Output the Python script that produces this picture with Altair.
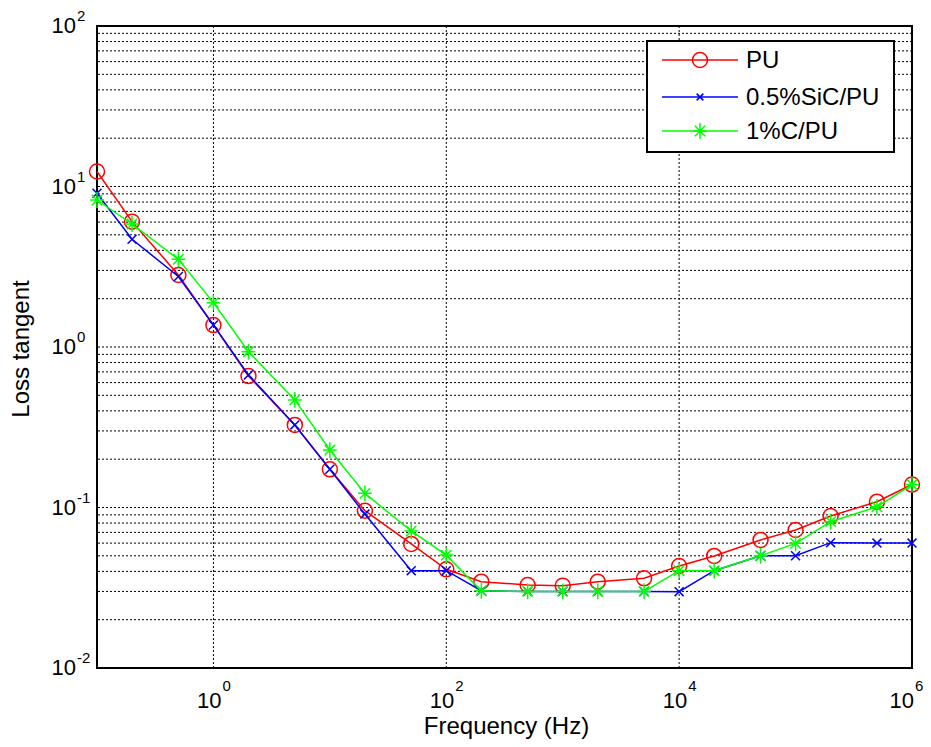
import altair as alt
import pandas as pd

# ---- data ----
freq = [0.1, 0.2, 0.5, 1, 2, 5, 10, 20, 50, 100, 200, 500, 1000, 2000, 5000,
        1e4, 2e4, 5e4, 1e5, 2e5, 5e5, 1e6]
pu = [12.4, 6.04, 2.81, 1.37, 0.659, 0.327, 0.173, 0.0955, 0.0593, 0.0412,
      0.0345, 0.0329, 0.0326, 0.0345, 0.0362, 0.0432, 0.0499, 0.0628, 0.0724,
      0.0885, 0.1087, 0.139]
sic = [9.07, 4.69, 2.75, 1.37, 0.67, 0.327, 0.173, 0.091, 0.0404, 0.0404,
       0.0303, 0.03, 0.03, 0.03, 0.03, 0.0299, 0.0404, 0.05, 0.05, 0.0604,
       0.06, 0.06]
cpu = [8.24, 5.84, 3.52, 1.89, 0.935, 0.468, 0.228, 0.1225, 0.0714, 0.0505,
       0.0303, 0.03, 0.03, 0.03, 0.03, 0.0404, 0.0404, 0.05, 0.0598, 0.0816,
       0.101, 0.139]

series_names = ["PU", "0.5%SiC/PU", "1%C/PU"]
series_vals = [pu, sic, cpu]
series_colors = ["#FF0000", "#0000FF", "#00FF00"]

x_ticks = [1, 100, 1e4, 1e6]
x_exp = ["0", "2", "4", "6"]
y_ticks = [0.01, 0.1, 1, 10, 100]
y_exp = ["-2", "-1", "0", "1", "2"]
y_grid = [m * d for d in [0.01, 0.1, 1, 10] for m in range(1, 10)] + [100]

W, H = 815, 642
FONT = "Liberation Sans"

CIRCLE = "circle"
XMARK = "M-1,-1L1,1M-1,1L1,-1"
STAR = "M-1,0L1,0M0,-1.15L0,1.15M-0.75,-0.75L0.75,0.75M-0.75,0.75L0.75,-0.75"
shapes = [CIRCLE, XMARK, STAR]
sizes = [225, 80, 190]

xscale = alt.Scale(type="log", domain=[0.1, 1e6], nice=False)
yscale = alt.Scale(type="log", domain=[0.01, 100], nice=False)

layers = []
# dotted grid
layers.append(alt.Chart(pd.DataFrame({"v": y_grid})).mark_rule(
    color="black", strokeDash=[2, 2], strokeWidth=1, opacity=1).encode(
    y=alt.Y("v:Q", scale=yscale, axis=None)))
layers.append(alt.Chart(pd.DataFrame({"v": x_ticks})).mark_rule(
    color="black", strokeDash=[2, 2], strokeWidth=1, opacity=1).encode(
    x=alt.X("v:Q", scale=xscale, axis=None)))

for name, vals, col, shp, sz in zip(series_names, series_vals, series_colors, shapes, sizes):
    df = pd.DataFrame({"f": freq, "v": vals})
    base = alt.Chart(df)
    ln = base.mark_line(color=col, strokeWidth=1.5).encode(
        x=alt.X("f:Q", scale=xscale, axis=None),
        y=alt.Y("v:Q", scale=yscale, axis=None),
        order="f:Q",
    )
    pt = base.mark_point(shape=shp, size=sz, color=col, filled=False,
                         strokeWidth=1.5, opacity=1).encode(
        x=alt.X("f:Q", scale=xscale, axis=None),
        y=alt.Y("v:Q", scale=yscale, axis=None),
    )
    layers += [ln, pt]

# tick labels (10 with superscript exponent)
xt = pd.DataFrame({"v": x_ticks, "e": x_exp})
xt_in = xt.iloc[:-1]
xt_last = xt.iloc[-1:]
for d, shift in [(xt_in, 0), (xt_last, -6)]:
    layers.append(alt.Chart(d).mark_text(align="right", baseline="middle", dx=8 + shift,
                                         fontSize=22, font=FONT, color="black").encode(
        x=alt.X("v:Q", scale=xscale, axis=None), y=alt.value(H + 33), text=alt.value("10")))
    layers.append(alt.Chart(d).mark_text(align="left", baseline="middle", dx=9 + shift,
                                         fontSize=15, font=FONT, color="black").encode(
        x=alt.X("v:Q", scale=xscale, axis=None), y=alt.value(H + 18), text="e:N"))

yt = pd.DataFrame({"v": y_ticks, "e": y_exp})
layers.append(alt.Chart(yt).mark_text(align="right", baseline="middle",
                                      fontSize=22, font=FONT, color="black").encode(
    y=alt.Y("v:Q", scale=yscale, axis=None), x=alt.value(-21), text=alt.value("10")))
layers.append(alt.Chart(yt).mark_text(align="left", baseline="middle", dy=-10,
                                      fontSize=15, font=FONT, color="black").encode(
    y=alt.Y("v:Q", scale=yscale, axis=None), x=alt.value(-20), text="e:N"))

one = pd.DataFrame({"a": [0]})
# axis titles
layers.append(alt.Chart(one).mark_text(angle=270, fontSize=24, font=FONT, color="black",
                                       baseline="middle", align="center").encode(
    x=alt.value(-75), y=alt.value(H / 2 + 2), text=alt.value("Loss tangent")))
layers.append(alt.Chart(one).mark_text(fontSize=24, font=FONT, color="black",
                                       baseline="alphabetic", align="center").encode(
    x=alt.value(W / 2 + 2), y=alt.value(H + 66), text=alt.value("Frequency (Hz)")))

# legend
LX0, LX1, LY0, LY1 = 550, 797, 15, 126
layers.append(alt.Chart(one).mark_rect(fill="white", stroke="black", strokeWidth=2).encode(
    x=alt.value(LX0), x2=alt.value(LX1), y=alt.value(LY0), y2=alt.value(LY1)))
rows_y = [34, 71, 105]
for name, col, shp, sz, ry in zip(series_names, series_colors, shapes, sizes, rows_y):
    layers.append(alt.Chart(one).mark_rule(color=col, strokeWidth=1.5).encode(
        x=alt.value(565), x2=alt.value(641), y=alt.value(ry)))
    layers.append(alt.Chart(one).mark_point(shape=shp, size=sz if shp != XMARK else 45,
                                            color=col, filled=False, strokeWidth=1.5,
                                            opacity=1).encode(
        x=alt.value(603), y=alt.value(ry)))
    layers.append(alt.Chart(one).mark_text(align="left", baseline="middle", fontSize=24,
                                           font=FONT, color="black").encode(
        x=alt.value(649), y=alt.value(ry + 1), text=alt.value(name)))

chart = alt.layer(*layers).properties(
    width=W, height=H, autosize="none", background="white",
    padding={"left": 89, "top": 18, "right": 11, "bottom": 71},
).configure_view(stroke="black", strokeWidth=2)

chart.save("out.html", embed_options={"renderer": "svg", "actions": False})
